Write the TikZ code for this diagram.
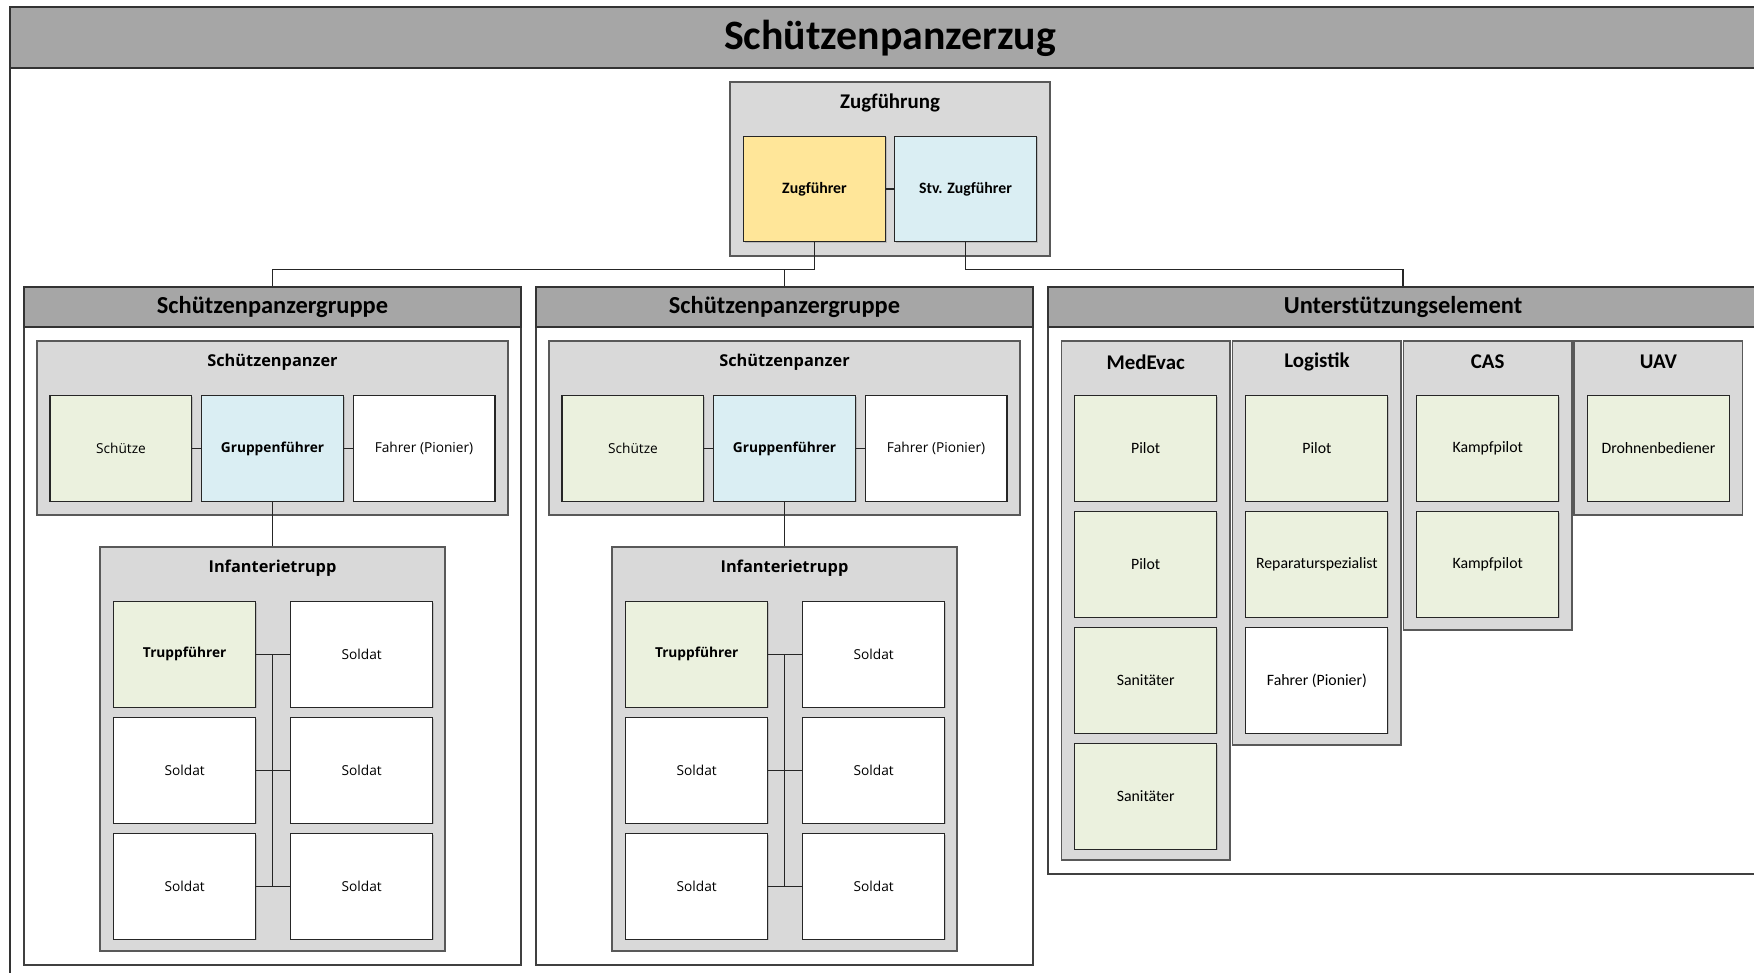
\documentclass[tikz,border=0pt]{standalone}
\usepackage{fontspec}
\setmainfont{Carlito}
\newfontfamily\opensans{Open Sans}
\usetikzlibrary{positioning,shadows}

\definecolor{headgray}{HTML}{A6A6A6}
\definecolor{boxgray}{HTML}{D9D9D9}
\definecolor{rolegreen}{HTML}{EBF1DE}
\definecolor{roleblue}{HTML}{DAEEF3}
\definecolor{rolegold}{HTML}{FFE699}

\begin{document}
\begin{tikzpicture}[x=0.02cm, y=-0.02cm]

\tikzset{
	unit frame/.style={draw=black!75, line width=0.8pt, fill=white, inner sep=0pt},
	unit head/.style={draw=black!80, line width=0.8pt, fill=headgray, inner sep=0pt,
		minimum height=0.8cm, font=\fontsize{13.9}{16}\selectfont\bfseries},
	section box/.style={draw=black!65, line width=0.8pt, fill=boxgray, inner sep=0pt,
		minimum width=#1},
	section box/.default=3.37cm,
	sub head/.style={font=\fontsize{11.9}{14}\selectfont\bfseries},
	spz head/.style={font=\opensans\bfseries\fontsize{9.3}{11}\selectfont},
	role/.style={draw=black!85, line width=0.6pt, fill=#1, inner sep=1pt,
		minimum width=2.84cm, minimum height=2.11cm, align=center,
		drop shadow={shadow xshift=0.6pt, shadow yshift=-0.6pt, opacity=0.35},
		font=\fontsize{9}{11}\selectfont},
	role/.default=white,
	lead/.style={font=\fontsize{9}{11}\selectfont\bfseries},
	spz role/.style={font=\opensans\fontsize{7.8}{9.4}\selectfont},
	spz lead/.style={font=\opensans\bfseries\fontsize{7.8}{9.4}\selectfont},
	link/.style={draw=black!85, line width=0.6pt}
}

\useasboundingbox (0,0) rectangle (1754,973);
\clip (0,0) rectangle (1754,973);

% title bar
\fill[headgray] (10,7) rectangle (1760,68);
\draw[black!80, line width=0.8pt] (10,985) -- (10,7) -- (1760,7) (10,68) -- (1760,68);
\node[font=\fontsize{23.8}{28}\selectfont\bfseries] (title) at (890,38) {Schützenpanzerzug};

% Zugfuehrung
\node[section box=6.4cm, minimum height=3.48cm] (zfg) at (890,169) {};
\node[sub head] (zfgt) at (890,103) {Zugführung};
\node[role=rolegold, lead] (zf) at (814.5,189) {Zugführer};
\node[role=roleblue, lead, right=0.16cm of zf] (stv) {Stv. Zugführer};
\draw[link] (zf) -- (stv);

% two Schuetzenpanzergruppen
\foreach \g/\gx in {1/272.5, 2/784.5} {
	\node[unit frame, minimum width=9.94cm, minimum height=13.56cm] (grp\g) at (\gx,626) {};
	\node[unit head, minimum width=9.94cm] (grph\g) at (\gx,307) {Schützenpanzergruppe};

	\node[section box=9.42cm, minimum height=3.48cm] (spz\g) at (\gx,428) {};
	\node[spz head] (spzt\g) at (\gx,362) {Schützenpanzer};
	\node[role=roleblue, spz lead] (gf\g) at (\gx,448.5) {Gruppenführer};
	\node[role=rolegreen, spz role, left=0.17cm of gf\g] (sch\g) {Schütze};
	\node[role, spz role, right=0.17cm of gf\g] (fah\g) {Fahrer (Pionier)};

	\node[section box=6.9cm, minimum height=8.08cm] (it\g) at (\gx,749) {};
	\node[spz head] (itt\g) at (\gx,568) {Infanterietrupp};
	\node[role=rolegreen, spz lead] (tf\g) at (\gx-87.8,654.3) {Truppführer};
	\node[role, spz role, below=0.19cm of tf\g] (sl2\g) {Soldat};
	\node[role, spz role, below=0.19cm of sl2\g] (sl3\g) {Soldat};
	\node[role, spz role, right=0.68cm of tf\g] (sr1\g) {Soldat};
	\node[role, spz role, right=0.68cm of sl2\g] (sr2\g) {Soldat};
	\node[role, spz role, right=0.68cm of sl3\g] (sr3\g) {Soldat};

	\draw[link] (sch\g) -- (gf\g);
	\draw[link] (gf\g) -- (fah\g);
	\draw[link] (gf\g) -- (it\g);
	\draw[link] (tf\g) -- (sr1\g);
	\draw[link] (sl2\g) -- (sr2\g);
	\draw[link] (sl3\g) -- (sr3\g);
	\draw[link] (tf\g.east -| it\g.north) -- (sl3\g.east -| it\g.north);
}

% Unterstuetzungselement
\node[unit frame, minimum width=14.2cm, minimum height=11.74cm] (ue) at (1403,580.5) {};
\node[unit head, minimum width=14.2cm] (ueh) at (1403,307) {Unterstützungselement};

\node[section box, minimum height=10.38cm] (med) at (1145.7,600.5) {};
\node[section box, minimum height=8.08cm] (log) at (1316.9,543) {};
\node[section box, minimum height=5.78cm] (cas) at (1487.7,485.5) {};
\node[section box, minimum height=3.48cm] (uav) at (1658.4,428) {};
\node[sub head] (medt) at (1145.7,362) {MedEvac};
\node[sub head] (logt) at (1316.9,362) {Logistik};
\node[sub head] (cast) at (1487.7,362) {CAS};
\node[sub head] (uavt) at (1658.4,362) {UAV};

\node[role=rolegreen] (med1) at (1145.7,448.5) {Pilot};
\node[role=rolegreen, below=0.19cm of med1] (med2) {Pilot};
\node[role=rolegreen, below=0.19cm of med2] (med3) {Sanitäter};
\node[role=rolegreen, below=0.19cm of med3] (med4) {Sanitäter};

\node[role=rolegreen] (log1) at (1316.9,448.5) {Pilot};
\node[role=rolegreen, below=0.19cm of log1] (log2) {Reparaturspezialist};
\node[role, below=0.19cm of log2] (log3) {Fahrer (Pionier)};

\node[role=rolegreen] (cas1) at (1487.7,448.5) {Kampfpilot};
\node[role=rolegreen, below=0.19cm of cas1] (cas2) {Kampfpilot};

\node[role=rolegreen] (uav1) at (1658.4,448.5) {Drohnenbediener};

% connectors from the Zugfuehrung
\draw[link] (zf.south) -- ++(0,27) -| (grph1.north);
\draw[link] (zf.south) ++(0,27) -| (grph2.north);
\draw[link] (stv.south) -- ++(0,27) -| (ueh.north);

\end{tikzpicture}
\end{document}
